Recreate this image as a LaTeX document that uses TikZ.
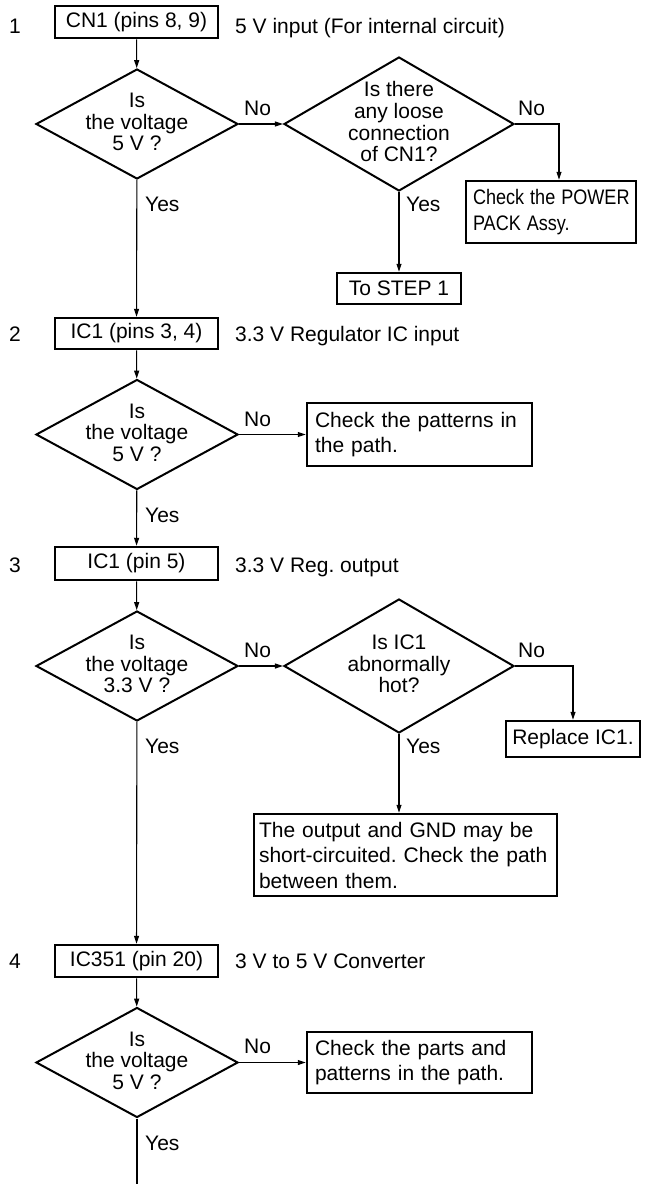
\documentclass[tikz,border=0pt]{standalone}
\usepackage{fontspec}
\usepackage{graphicx}
\setmainfont{Liberation Sans}
\usetikzlibrary{shapes.geometric,arrows.meta}
\frenchspacing
\newcommand\dtext[1]{\smash{\makebox[0pt]{\raisebox{-6pt}{\begin{tabular}{@{}c@{}}#1\end{tabular}}}}}
\newcommand\cnd[1]{\scalebox{0.86}[1]{#1}}
\begin{document}
\begin{tikzpicture}[x=1pt,y=-1pt,
  every node/.style={font=\fontsize{21}{21.5}\selectfont},
  stepbox/.style={draw,line width=2.5pt,minimum width=163pt,minimum height=32pt,inner sep=0pt},
  dia/.style={draw,diamond,line width=2pt,inner sep=0pt,minimum width=202pt,minimum height=110pt},
  bigdia/.style={dia,minimum width=230pt,minimum height=134pt},
  msgbox/.style={draw,line width=2.5pt,inner ysep=0pt,align=left,font=\fontsize{21}{25.5}\selectfont},
  lbl/.style={anchor=base west,inner sep=0pt},
  conn/.style={line width=1.1pt,-{Triangle[length=8pt,width=5pt]}},
  plainline/.style={line width=1.1pt}
]
\useasboundingbox (0,0) rectangle (667,1184);

% ---------- step 1
\node[lbl] (n1) at (9,33) {1};
\node[stepbox] (s1) at (136.5,22) {CN1 (pins 8, 9)};
\node[lbl] (t1) at (235,33) {5 V input (For internal circuit)};
\node[dia] (d1) at (137,124) {\dtext{Is\\the voltage\\5 V ?}};
\node[bigdia] (d2) at (399,124) {\dtext{Is there\\any loose\\connection\\of CN1?}};
\node[msgbox,inner xsep=7pt,text width=156pt,minimum height=62pt] (pw) at (551,212) {\cnd{Check the POWER}\\\cnd{PACK Assy.}};
\node[stepbox,minimum width=124pt,minimum height=31pt] (stp) at (399,288.5) {To STEP 1};
\node[lbl] (no1) at (244,115) {No};
\node[lbl] (no2) at (518,115) {No};
\node[lbl] (y1) at (145,211) {Yes};
\node[lbl] (y2) at (406,211) {Yes};

% ---------- step 2
\node[lbl] (n2) at (9,341) {2};
\node[stepbox,minimum height=31pt] (s2) at (136.5,333.5) {IC1 (pins 3, 4)};
\node[lbl] (t2) at (235,341) {3.3 V Regulator IC input};
\node[dia] (d3) at (137,434.5) {\dtext{Is\\the voltage\\5 V ?}};
\node[msgbox,inner xsep=8pt,text width=209pt,minimum height=63pt] (pat) at (419.5,434.5) {Check the patterns in\\the path.};
\node[lbl] (no3) at (244,426) {No};
\node[lbl] (y3) at (145,522) {Yes};

% ---------- step 3
\node[lbl] (n3) at (9,572) {3};
\node[stepbox,minimum height=33pt] (s3) at (136.5,563.5) {IC1 (pin 5)};
\node[lbl] (t3) at (235,572) {3.3 V Reg. output};
\node[dia] (d5) at (137,666) {\dtext{Is\\the voltage\\3.3 V ?}};
\node[bigdia] (d6) at (399,666) {\dtext{Is IC1\\abnormally\\hot?}};
\node[stepbox,minimum width=134pt,minimum height=36pt] (rep) at (573,739) {Replace IC1.};
\node[msgbox,inner xsep=5pt,text width=293pt,minimum height=82pt] (out) at (405.5,855) {The output and GND may be\\short-circuited. Check the path\\between them.};
\node[lbl] (no4) at (244,657) {No};
\node[lbl] (no5) at (518,657) {No};
\node[lbl] (y4) at (145,753) {Yes};
\node[lbl] (y5) at (406,753) {Yes};

% ---------- step 4
\node[lbl] (n4) at (9,968) {4};
\node[stepbox] (s4) at (136.5,961) {IC351 (pin 20)};
\node[lbl] (t4) at (235,968) {3 V to 5 V Converter};
\node[dia] (d7) at (137,1062.5) {\dtext{Is\\the voltage\\5 V ?}};
\node[msgbox,inner xsep=8pt,text width=209pt,minimum height=61pt] (parts) at (419.5,1062.5) {Check the parts and\\patterns in the path.};
\node[lbl] (no6) at (244,1053) {No};
\node[lbl] (y6) at (145,1150) {Yes};
\coordinate (endpt) at (137,1184);

% ---------- connectors
\draw[conn] (s1) -- (d1);
\draw[conn] (d1) -- (d2);
\draw[conn] (d2.east) -| ([xshift=8pt]pw.north);
\draw[conn] (d2) -- (stp);
\draw[conn] (d1) -- (s2);
\draw[conn] (s2) -- (d3);
\draw[conn] (d3.east) -- (d3.east -| pat.west);
\draw[conn] (d3) -- (s3);
\draw[conn] (s3) -- (d5);
\draw[conn] (d5) -- (d6);
\draw[conn] (d6.east) -| (rep.north);
\draw[conn] (d6.south) -- (d6.south |- out.north);
\draw[conn] (d5) -- (s4);
\draw[conn] (s4) -- (d7);
\draw[conn] (d7.east) -- (d7.east -| parts.west);
\draw[plainline] (d7.south) -- (endpt);
\end{tikzpicture}
\end{document}
